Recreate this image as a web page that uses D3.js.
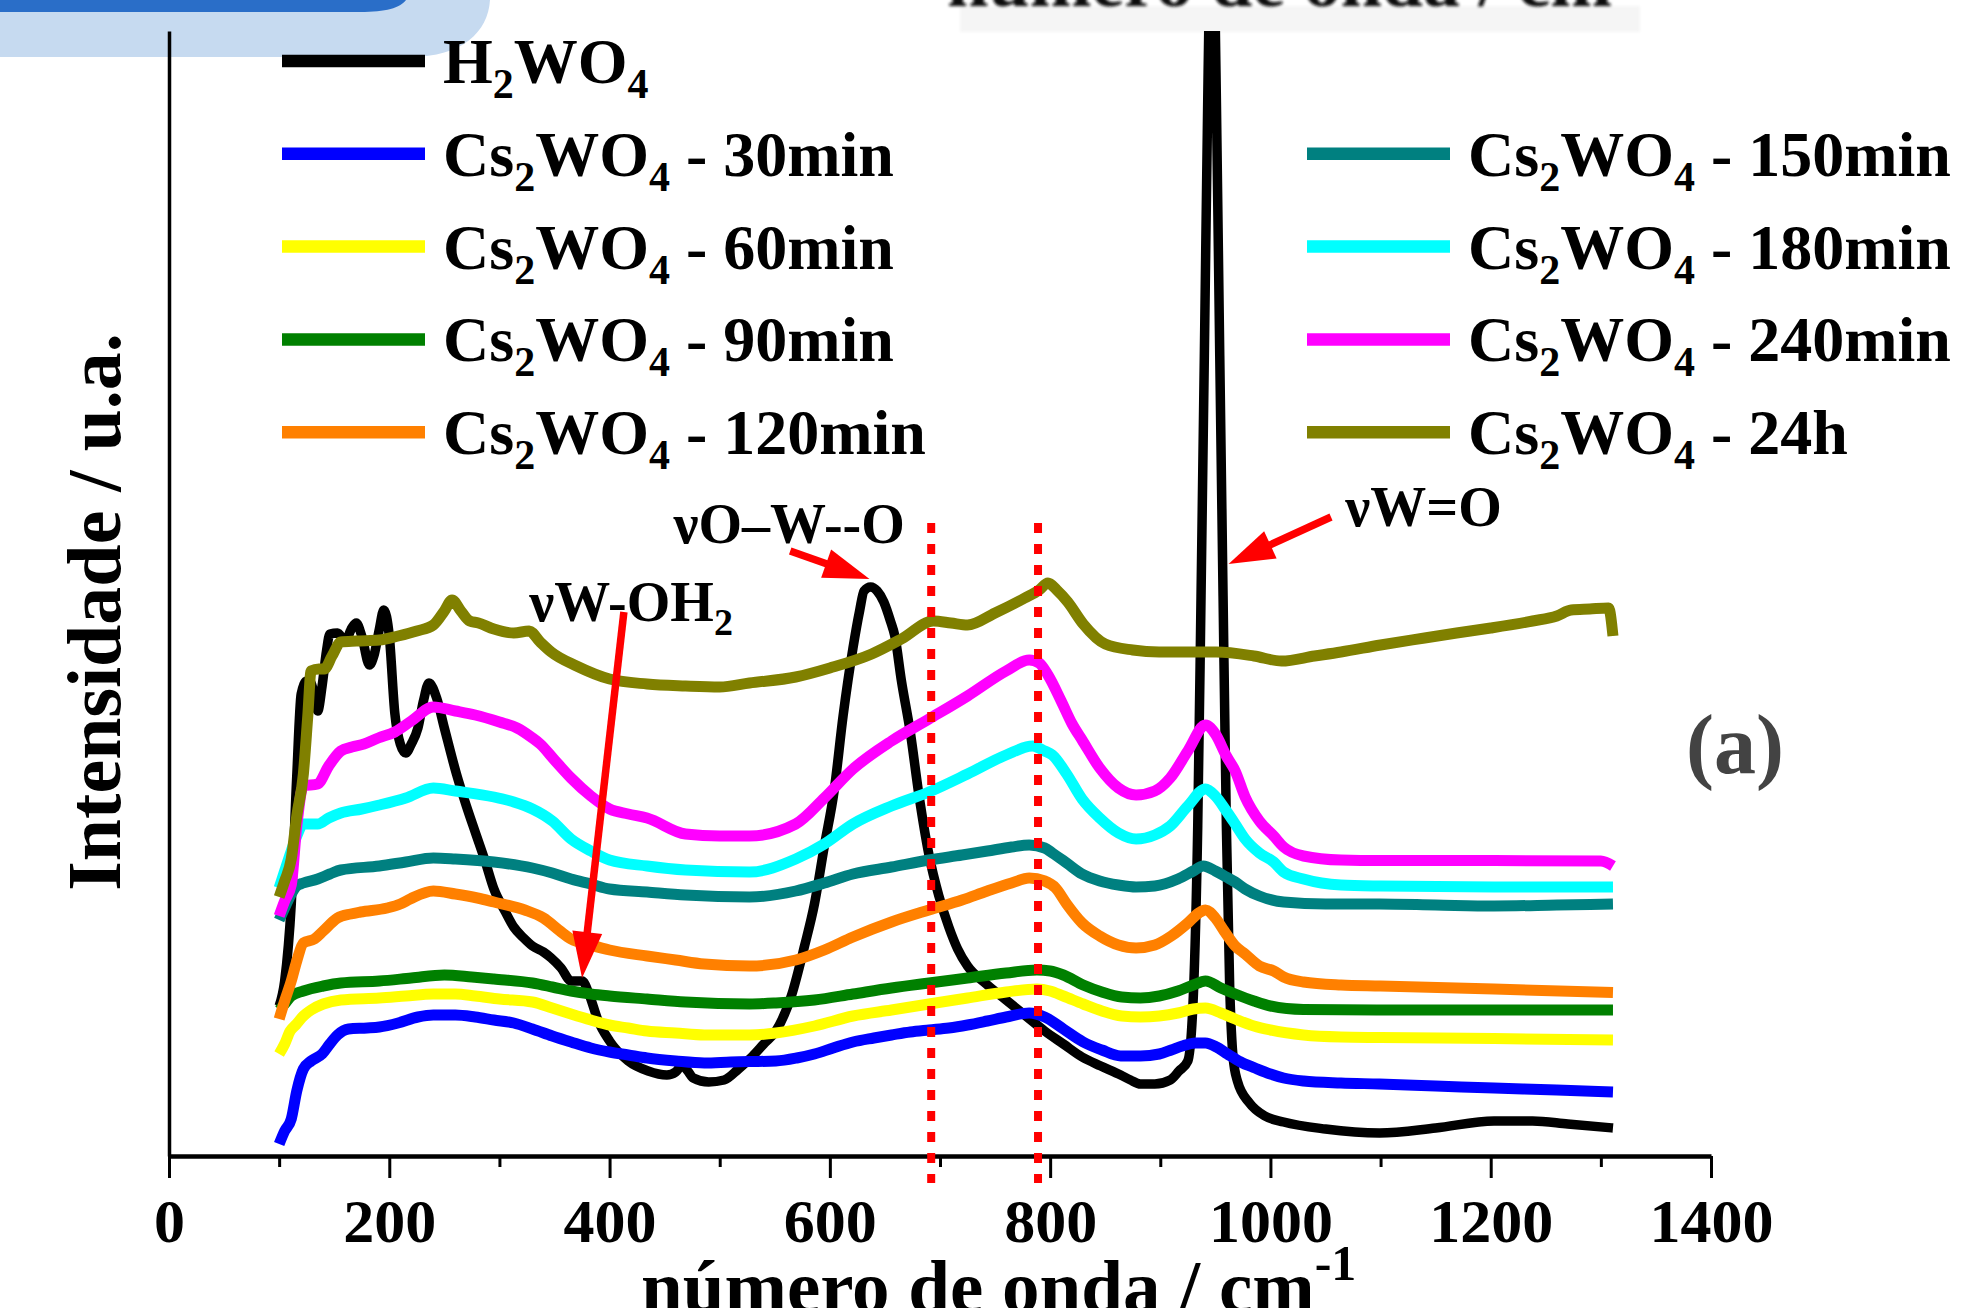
<!DOCTYPE html>
<html>
<head>
<meta charset="utf-8">
<script src="https://cdn.jsdelivr.net/npm/d3@7"></script>
<style>
  html, body { margin: 0; padding: 0; background: #fff; }
  svg { display: block; }
  text { font-family: "Liberation Serif", "Times New Roman", serif; font-weight: bold; }
</style>
</head>
<body>
<div id="chart"></div>
<script>
// wavenumber (cm-1) / intensity (a.u.) pairs
var h2wo4 = [[100,150],[105,175],[111,252],[116,380],[120,462],[125,475],[129,473],[132,460],[135,445],[139,470],[143,505],[146,522],[153,523],[160,515],[166,528],[170,533],[175,520],[182,491],[186,500],[191,527],[195,546],[200,520],[205,443],[210,412],[215,403],[220,412],[226,428],[231,455],[236,473],[243,458],[250,428],[261,382],[270,350],[278,324],[287,295],[295,267],[305,245],[313,229],[322,218],[330,210],[340,204],[347,198],[356,188],[365,175],[375,175],[382,160],[389,137],[400,115],[417,95],[435,85],[452,81],[460,84],[466,91],[471,85],[476,78],[490,74],[504,76],[517,87],[530,100],[540,112],[551,125],[565,160],[577,210],[586,252],[595,310],[604,366],[612,440],[621,508],[627,545],[631,565],[637,569],[643,565],[649,554],[655,535],[659,520],[665,475],[673,424],[681,360],[690,301],[699,260],[708,229],[716,207],[725,190],[742,172],[760,156],[778,140],[795,125],[812,112],[829,99],[846,90],[864,81],[873,76],[882,72],[895,72],[909,76],[917,85],[925,95],[930,160],[934,330],[937,560],[940,800],[943,1050],[945,1200],[947,1300],[949,1200],[951,1050],[954,800],[957,560],[960,330],[963,170],[966,100],[970,75],[981,53],[995,40],[1012,34],[1050,27],[1099,23],[1150,28],[1203,35],[1238,35],[1270,32],[1311,28]];
var cs30 = [[100,12],[105,25],[111,37],[116,65],[122,87],[129,95],[139,102],[146,112],[153,121],[163,127],[180,128],[191,129],[208,133],[226,139],[240,141],[260,141],[278,139],[295,136],[313,133],[330,127],[348,120],[365,114],[383,108],[400,104],[417,101],[434,98],[460,95],[486,93],[510,94],[551,95],[570,98],[586,102],[603,108],[621,114],[640,118],[656,121],[673,124],[690,126],[708,128],[725,131],[743,135],[760,139],[781,143],[795,139],[812,127],[830,114],[847,106],[864,100],[882,100],[899,102],[910,106],[920,110],[932,113],[941,113],[951,109],[961,102],[973,94],[986,88],[1000,82],[1012,78],[1030,75],[1064,73],[1099,72],[1150,70],[1203,68],[1260,66],[1311,64]];
var cs60 = [[100,102],[105,112],[110,125],[115,131],[122,140],[129,146],[140,152],[156,156],[191,158],[215,160],[240,162],[260,162],[278,160],[300,157],[330,154],[348,148],[365,142],[383,136],[400,131],[417,128],[434,125],[460,123],[486,121],[527,121],[551,123],[586,130],[621,140],[656,146],[690,152],[725,158],[760,164],[788,167],[800,165],[812,160],[830,152],[847,145],[865,140],[882,139],[899,140],[916,143],[930,147],[941,148],[955,143],[968,137],[985,130],[1000,126],[1030,121],[1064,119],[1100,118.5],[1203,117.5],[1311,116]];
var cs90 = [[100,146],[105,152],[111,160],[122,165],[140,170],[156,173],[191,175],[220,178],[250,181],[275,179],[295,177],[330,173],[348,169],[365,165],[383,162],[400,160],[434,157],[469,154],[527,152],[551,153],[586,156],[621,162],[656,168],[690,173],[725,178],[760,183],[788,186],[800,185],[812,181],[830,171],[847,164],[865,159],[882,158],[899,160],[916,165],[930,171],[941,175],[955,168],[968,162],[985,155],[1000,150],[1030,146.5],[1100,146],[1200,146],[1311,146]];
var cs120 = [[100,137],[105,155],[111,175],[116,195],[122,213],[132,217],[140,225],[153,238],[165,242],[174,244],[198,248],[210,252],[219,257],[240,265],[260,262],[280,258],[295,254],[323,246],[340,238],[355,225],[365,217],[383,211],[400,206],[434,200],[460,196],[486,192],[527,190],[569,196],[595,206],[621,219],[656,234],[690,246],[720,256],[743,265],[765,273],[781,278],[795,275],[805,268],[815,252],[829,233],[845,220],[862,211],[878,208],[895,211],[910,220],[925,233],[935,243],[941,246],[950,238],[958,225],[968,210],[977,202],[990,190],[1003,185],[1012,179],[1030,174],[1064,171],[1100,170],[1203,167],[1311,163.5]];
var cs150 = [[100,236],[105,248],[111,262],[116,270],[122,273],[135,277],[146,282],[156,286],[191,290],[215,294],[240,298],[260,297],[295,294],[330,288],[348,283],[365,277],[383,272],[400,267],[434,264],[469,261],[527,259],[569,265],[595,273],[621,282],[656,289],[690,296],[720,301],[743,305],[765,309],[781,311],[795,308],[802,303],[815,293],[829,282],[845,275],[862,271],[878,269],[895,270],[916,277],[930,285],[939,290],[950,285],[960,279],[968,274],[977,267],[990,260],[1012,254],[1050,252],[1099,252],[1150,251],[1203,250],[1260,251],[1311,252]];
var cs180 = [[100,268],[105,285],[111,305],[116,320],[122,332],[135,332],[145,338],[156,343],[175,347],[191,351],[215,358],[240,368],[260,365],[295,359],[313,354],[330,347],[348,335],[365,317],[383,305],[400,296],[434,290],[469,286],[527,284],[569,297],[595,312],[621,332],[656,350],[690,364],[725,382],[760,401],[784,410],[795,405],[802,401],[815,382],[829,357],[845,338],[862,323],[878,317],[895,321],[909,330],[925,350],[941,367],[950,360],[960,345],[968,332],[977,317],[990,303],[1003,294],[1012,284],[1030,277],[1064,271],[1100,270],[1203,269],[1311,269]];
var cs240 = [[100,240],[105,255],[111,271],[116,330],[122,370],[135,372],[145,390],[156,405],[166,409],[177,412],[190,418],[205,424],[220,435],[240,449],[260,445],[278,441],[300,434],[316,428],[330,418],[337,412],[350,396],[365,378],[383,360],[400,347],[417,342],[434,338],[469,322],[500,320],[527,320],[569,332],[595,358],[621,387],[656,415],[690,437],[725,460],[760,485],[781,496],[790,493],[798,481],[810,455],[820,432],[829,416],[845,388],[862,368],[878,361],[895,365],[909,378],[925,405],[941,431],[950,422],[960,400],[968,385],[977,359],[990,335],[1003,320],[1012,309],[1030,300],[1064,296],[1100,295.5],[1203,295.5],[1300,295],[1311,290]];
var cs24h = [[100,259],[105,275],[111,297],[116,340],[122,382],[126,440],[129,485],[136,487],[141,487],[148,500],[156,514],[170,515],[191,516],[208,520],[225,525],[240,531],[250,545],[257,556],[265,545],[273,535],[281,533],[295,527],[313,523],[327,525],[337,514],[347,504],[370,490],[400,477],[434,472],[469,470],[500,469],[527,473],[569,479],[600,488],[638,502],[665,517],[694,535],[710,533],[725,531],[750,543],[777,558],[790,566],[798,573],[806,566],[816,554],[830,532],[850,512],[875,506],[899,504],[951,504],[985,500],[1010,495],[1040,500],[1064,504],[1100,511],[1140,518],[1169,523],[1200,528],[1238,535],[1260,540],[1273,546],[1290,547],[1307,548],[1311,520]];

var seriesLabels = ["H2WO4", "Cs2WO4 - 30min", "Cs2WO4 - 60min", "Cs2WO4 - 90min", "Cs2WO4 - 120min",
                    "Cs2WO4 - 150min", "Cs2WO4 - 180min", "Cs2WO4 - 240min", "Cs2WO4 - 24h"];
var seriesColors = ["#000000", "#0000ff", "#ffff00", "#008000", "#ff8000", "#008080", "#00ffff", "#ff00ff", "#808000"];
var seriesData = [h2wo4, cs30, cs60, cs90, cs120, cs150, cs180, cs240, cs24h];

var majorTicks = [0, 200, 400, 600, 800, 1000, 1200, 1400];
var minorTicks = [100, 300, 500, 700, 900, 1100, 1300];
var refLines = [692, 789];          // dotted guides, cm-1
var refSpan = [633, -27];           // top / bottom of the guides, a.u.

var notes = [
  { text: "νO–W--O", sub: "", x: 458, y: 613 },
  { text: "νW-OH", sub: "2", x: 327, y: 535 },
  { text: "νW=O", sub: "", x: 1068, y: 630 }
];
var arrows = [
  { x1: 564, y1: 605, x2: 636, y2: 577 },
  { x1: 413, y1: 544, x2: 375, y2: 178 },
  { x1: 1055, y1: 639, x2: 962, y2: 592 }
];

var W = 1963, H = 1308;
var x = d3.scaleLinear().domain([0, 1400]).range([169, 1711]);
var y = d3.scaleLinear().domain([0, 1125]).range([1156, 31]);

var svg = d3.select("#chart").append("svg").attr("width", W).attr("height", H);

// slide decoration at the top left
svg.append("path").attr("d", "M0,0 H490 C488,32 462,57 410,57 H0 Z").attr("fill", "#c6daf0");
svg.append("path").attr("d", "M0,0 H406 C400,8 386,12 360,12 H0 Z").attr("fill", "#2a6ec8");

// faint leftover of a title cut off at the top
var blur = svg.append("defs").append("filter").attr("id", "soft");
blur.append("feGaussianBlur").attr("stdDeviation", 1.5);
svg.append("rect").attr("x", 960).attr("y", 6).attr("width", 680).attr("height", 26)
  .attr("fill", "#f5f5f5").attr("filter", "url(#soft)");
svg.append("text").attr("x", 1612).attr("y", 6).attr("text-anchor", "end")
  .style("font-size", "74px").attr("fill", "#111").attr("filter", "url(#soft)")
  .text("número de onda / cm");

svg.append("clipPath").attr("id", "plot").append("rect")
  .attr("x", 160).attr("y", 31).attr("width", 1600).attr("height", 1160);

// axes
var xAxis = svg.append("g").attr("transform", "translate(0," + y(0) + ")")
  .call(d3.axisBottom(x).tickValues(majorTicks).tickSize(22).tickSizeOuter(0).tickFormat(d3.format("d")));
xAxis.select(".domain").attr("stroke-width", 4.5);
xAxis.selectAll(".tick line").attr("stroke-width", 3);
xAxis.selectAll(".tick text").attr("y", 86).attr("dy", 0)
  .style("font-size", "62px").style("font-family", "'Liberation Serif', serif").style("font-weight", "bold").attr("fill", "#000");

var xMinor = svg.append("g").attr("transform", "translate(0," + y(0) + ")")
  .call(d3.axisBottom(x).tickValues(minorTicks).tickSize(11).tickSizeOuter(0).tickFormat(""));
xMinor.select(".domain").remove();
xMinor.selectAll(".tick line").attr("stroke-width", 3);

var yAxis = svg.append("g").attr("transform", "translate(" + x(0) + ",0)")
  .call(d3.axisLeft(y).tickValues([]).tickSizeOuter(0));
yAxis.select(".domain").attr("stroke-width", 3.5);

// spectra
var line = d3.line().x(function(d) { return x(d[0]); }).y(function(d) { return y(d[1]); })
  .curve(d3.curveMonotoneX);

svg.append("g").attr("clip-path", "url(#plot)").selectAll("path")
  .data(seriesData).enter().append("path")
  .attr("d", line)
  .attr("fill", "none")
  .attr("stroke", function(d, i) { return seriesColors[i]; })
  .attr("stroke-width", function(d, i) { return i === 0 ? 9.5 : 11; })
  .attr("stroke-linejoin", "round");

// dotted guides
svg.append("g").selectAll("line").data(refLines).enter().append("line")
  .attr("x1", function(d) { return x(d); }).attr("x2", function(d) { return x(d); })
  .attr("y1", y(refSpan[0])).attr("y2", y(refSpan[1]))
  .attr("stroke", "#ff0000").attr("stroke-width", 8).attr("stroke-dasharray", "10 11");

// arrows
arrows.forEach(function(a) {
  var x1 = x(a.x1), y1 = y(a.y1), x2 = x(a.x2), y2 = y(a.y2);
  var dx = x2 - x1, dy = y2 - y1, len = Math.sqrt(dx * dx + dy * dy);
  var ux = dx / len, uy = dy / len, head = 46, half = 15;
  var bx = x2 - ux * head, by = y2 - uy * head;
  svg.append("line").attr("x1", x1).attr("y1", y1).attr("x2", bx + ux * 4).attr("y2", by + uy * 4)
    .attr("stroke", "#ff0000").attr("stroke-width", 7.5);
  svg.append("path")
    .attr("d", "M" + x2 + "," + y2 + " L" + (bx - uy * half) + "," + (by + ux * half) +
               " L" + (bx + uy * half) + "," + (by - ux * half) + " Z")
    .attr("fill", "#ff0000");
});

// labels
notes.forEach(function(n) {
  var t = svg.append("text").attr("x", x(n.x)).attr("y", y(n.y)).style("font-size", "56px").text(n.text);
  if (n.sub) t.append("tspan").attr("dy", 14).style("font-size", "38px").text(n.sub);
});

svg.append("text").attr("x", 1735).attr("y", 773).attr("text-anchor", "middle")
  .style("font-size", "84px").attr("fill", "#434343").text("(a)");

// legend
function formula(sel, label) {
  var parts = label.split(" - ");
  var re = /([A-Za-z]+)(\d*)/g, m, shift = 0;
  while ((m = re.exec(parts[0])) !== null) {
    sel.append("tspan").attr("dy", -shift).text(m[1]);
    shift = 0;
    if (m[2]) {
      sel.append("tspan").attr("dy", 15).style("font-size", "42px").text(m[2]);
      shift = 15;
    }
  }
  if (parts[1]) sel.append("tspan").attr("dy", -shift).text(" - " + parts[1]);
}

var legendCols = [282, 1307];
var legendRow = d3.scaleLinear().domain([0, 1]).range([61, 153.8]);
seriesLabels.forEach(function(label, i) {
  var col = i < 5 ? 0 : 1;
  var row = i < 5 ? i : i - 4;
  var ly = legendRow(row), lx = legendCols[col];
  svg.append("line").attr("x1", lx).attr("x2", lx + 143).attr("y1", ly).attr("y2", ly)
    .attr("stroke", seriesColors[i]).attr("stroke-width", 12.5);
  var t = svg.append("text").attr("x", lx + 161).attr("y", ly + 22).style("font-size", "64px");
  formula(t, label);
});

// axis titles
svg.append("text").attr("transform", "translate(120,612) rotate(-90)").attr("text-anchor", "middle")
  .style("font-size", "76px").text("Intensidade / u.a.");
var xt = svg.append("text").attr("x", 641).attr("y", 1312).style("font-size", "75px").text("número de onda / cm");
xt.append("tspan").attr("dy", -32).style("font-size", "50px").text("-1");
</script>
</body>
</html>
